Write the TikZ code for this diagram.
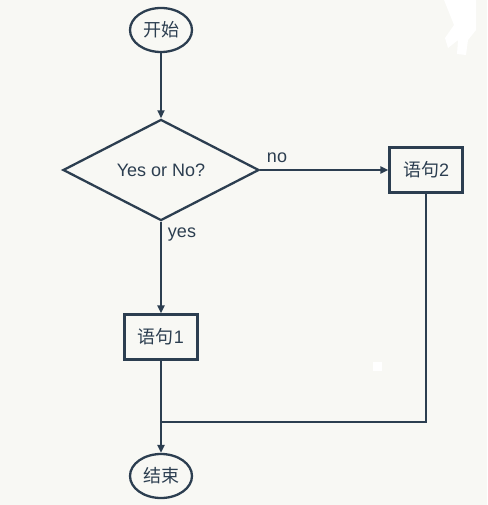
\documentclass[tikz,border=0pt]{standalone}
\usepackage{fontspec}
\setmainfont{Liberation Sans}
\newfontfamily\cjk{Noto Sans CJK SC}
\usetikzlibrary{shapes.geometric,arrows.meta}
\definecolor{ink}{HTML}{2C3E50}
\definecolor{bg}{HTML}{F8F8F4}
\tikzset{
  base/.style={draw=ink, line width=2.3pt, text=ink, inner sep=0pt, font=\fontsize{18}{21}\selectfont},
  term/.style={base, ellipse, minimum width=62pt, minimum height=44pt},
  proc/.style={base, rectangle, minimum width=73pt, minimum height=45pt},
  decide/.style={base, diamond, minimum width=196pt, minimum height=95pt},
  conn/.style={draw=ink, line width=2.3pt},
  arr/.style={conn, -{Triangle[length=8pt,width=7pt]}},
  lbl/.style={text=ink, font=\fontsize{18}{21}\selectfont, inner sep=0pt}
}
\begin{document}
\begin{tikzpicture}[x=1pt,y=-1pt]
\fill[bg] (0,0) rectangle (487,505);
\useasboundingbox (0,0) rectangle (487,505);
% white specks
\fill[white] (444,0) -- (476,0) -- (476,30) -- (468,40) -- (466,55) -- (457,54) -- (458,40) -- (448,48) -- (445,38) -- (454,25) -- cycle;
\fill[white] (373,362) rectangle (382,371);

\node[term] (start) at (161,30) {\cjk 开始};
\node[decide] (q) at (161,170) {Yes or No?};
\node[proc] (s2) at (426,170) {{\cjk 语句}2};
\node[proc] (s1) at (161,337) {{\cjk 语句}1};
\node[term] (end) at (161,476) {\cjk 结束};
\coordinate (j) at (161,422);

\draw[arr] (start) -- (q);
\draw[arr] (q.east) -- (s2.west);
\draw[arr] (q.south) -- (s1.north);
\draw[arr] (s1.south) -- (end.north);
\draw[conn] (s2.south) |- (j);

\node[lbl] (lno) at (277,158) {no};
\node[lbl] (lyes) at (182,235) {yes};
\end{tikzpicture}
\end{document}
